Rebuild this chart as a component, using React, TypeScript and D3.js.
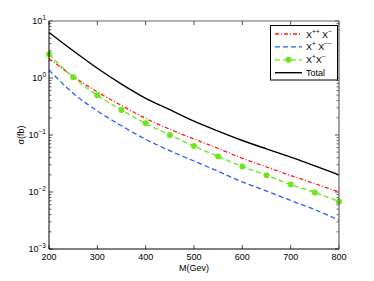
import React from "react";
import * as d3 from "d3";

// masses (GeV)
const masses = [200, 250, 300, 350, 400, 450, 500, 550, 600, 650, 700, 750, 800];
// cross sections (fb)
const sigmaPPm = [2.2, 1.07, 0.57, 0.33, 0.195, 0.126, 0.085, 0.058, 0.039, 0.0275, 0.0195, 0.014, 0.01];
const sigmaPmm = [1.38, 0.54, 0.265, 0.145, 0.084, 0.053, 0.035, 0.023, 0.015, 0.0104, 0.0071, 0.0049, 0.0032];
const sigmaPm = [2.6, 1.03, 0.5, 0.275, 0.16, 0.1, 0.064, 0.042, 0.028, 0.0197, 0.0135, 0.0098, 0.0068];
const sigmaTotal = [6.3, 3.0, 1.48, 0.78, 0.44, 0.278, 0.175, 0.117, 0.08, 0.057, 0.041, 0.0288, 0.0199];

const xTicks = [200, 300, 400, 500, 600, 700, 800];
const yExponents = [1, 0, -1, -2, -3];

const W = 374;
const H = 281;
const margin = { top: 21, right: 35, bottom: 32, left: 49 };

const App = () => {
  const x = d3.scaleLinear().domain([200, 800]).range([margin.left, W - margin.right]);
  const y = d3.scaleLog().domain([1e-3, 10]).range([H - margin.bottom, margin.top]);

  // smooth curve through the read points
  const line = (vals: number[]) =>
    d3.line<number>()
      .x((d, i) => x(masses[i]))
      .y((d) => y(d))
      .curve(d3.curveMonotoneX)(vals) as string;

  const minorTicks: number[] = [];
  for (let k = -3; k < 1; k++) {
    for (let m = 2; m <= 9; m++) minorTicks.push(m * Math.pow(10, k));
  }

  const x0 = x.range()[0];
  const x1 = x.range()[1];
  const y0 = y.range()[0];
  const y1 = y.range()[1];
  const font = "Liberation Sans, Arial, sans-serif";

  const series = [
    { label: ["X", "++", " X", "\u2212"], vals: sigmaPPm, color: "#ff1a1a", dash: "4,2,1,2", marker: false },
    { label: ["X", "+", " X", "\u2212\u2212"], vals: sigmaPmm, color: "#2b5cff", dash: "5,3", marker: false },
    { label: ["X", "+", "X", "\u2212"], vals: sigmaPm, color: "#6ee61e", dash: "5,3", marker: true },
    { label: ["Total", "", "", ""], vals: sigmaTotal, color: "#000", dash: "", marker: false },
  ];

  return (
    <svg width={W} height={H} style={{ position: "absolute", left: 0, top: 0, background: "#fff" }} fontFamily={font}>
      <rect x={0} y={0} width={W} height={H} fill="#fff" />

      {/* y ticks */}
      {minorTicks.map((t, i) => (
        <g key={"mt" + i} stroke="#000" strokeWidth={0.6}>
          <line x1={x0} x2={x0 + 2.5} y1={y(t)} y2={y(t)} />
          <line x1={x1} x2={x1 - 2.5} y1={y(t)} y2={y(t)} />
        </g>
      ))}
      {yExponents.map((e) => (
        <g key={"yt" + e}>
          <line x1={x0} x2={x0 + 4} y1={y(Math.pow(10, e))} y2={y(Math.pow(10, e))} stroke="#000" strokeWidth={0.7} />
          <line x1={x1} x2={x1 - 4} y1={y(Math.pow(10, e))} y2={y(Math.pow(10, e))} stroke="#000" strokeWidth={0.7} />
          <text x={x0 - 3} y={y(Math.pow(10, e)) + 3} fontSize={9} textAnchor="end">
            10<tspan dy={-4} fontSize={6.5}>{e < 0 ? "\u2212" + -e : e}</tspan>
          </text>
        </g>
      ))}

      {/* x ticks */}
      {xTicks.map((t) => (
        <g key={"xt" + t}>
          <line x1={x(t)} x2={x(t)} y1={y0} y2={y0 - 4} stroke="#000" strokeWidth={0.7} />
          <line x1={x(t)} x2={x(t)} y1={y1} y2={y1 + 4} stroke="#000" strokeWidth={0.7} />
          <text x={x(t)} y={y0 + 11} fontSize={9} textAnchor="middle">{t}</text>
        </g>
      ))}

      {/* curves */}
      {series.map((s, i) => (
        <path key={"s" + i} d={line(s.vals)} fill="none" stroke={s.color}
          strokeWidth={s.marker || s.dash === "" ? 1.4 : 1.3} strokeDasharray={s.dash || undefined} />
      ))}
      {sigmaPm.map((v, i) => (
        <circle key={"c" + i} cx={x(masses[i])} cy={y(v)} r={3} fill="#6ee61e" />
      ))}

      {/* frame */}
      <line x1={x0} x2={x1} y1={y1} y2={y1} stroke="#666" strokeWidth={1.2} />
      <line x1={x1} x2={x1} y1={y1} y2={y0} stroke="#666" strokeWidth={1.2} />
      <line x1={x0} x2={x0} y1={y1} y2={y0} stroke="#000" strokeWidth={1} />
      <line x1={x0} x2={x1} y1={y0} y2={y0} stroke="#000" strokeWidth={1} />

      {/* legend */}
      <rect x={270.5} y={25.5} width={67} height={54.5} fill="#fff" stroke="#000" strokeWidth={1} />
      {series.map((s, i) => {
        const ly = 34 + i * 12.9;
        return (
          <g key={"lg" + i}>
            <line x1={275} x2={302} y1={ly} y2={ly} stroke={s.color} strokeWidth={s.dash === "" ? 1.4 : 1.3}
              strokeDasharray={s.dash || undefined} />
            {s.marker && <circle cx={288.5} cy={ly} r={3} fill={s.color} />}
            <text x={306} y={ly + 3.5} fontSize={9}>
              {s.label[0]}
              {s.label[1] && <tspan dy={-4} fontSize={6.5}>{s.label[1]}</tspan>}
              {s.label[2] && <tspan dy={s.label[1] ? 4 : 0}>{s.label[2]}</tspan>}
              {s.label[3] && <tspan dy={-4} fontSize={6.5}>{s.label[3]}</tspan>}
            </text>
          </g>
        );
      })}

      {/* axis labels */}
      <text x={(x0 + x1) / 2} y={y0 + 22} fontSize={9} textAnchor="middle">M(Gev)</text>
      <text transform={`translate(24,${(y0 + y1) / 2}) rotate(-90)`} fontSize={9} textAnchor="middle">σ(fb)</text>
    </svg>
  );
};

export default App;
